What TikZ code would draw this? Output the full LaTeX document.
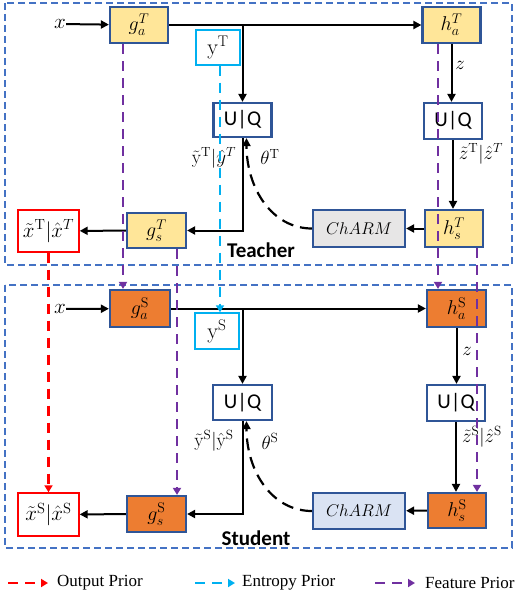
\RequirePackage{fix-cm}
\documentclass[tikz,border=0pt]{standalone}
\usepackage{fontspec}
\setsansfont{Carlito}
\newfontfamily\legendfont{Liberation Serif}
\usetikzlibrary{arrows.meta}
\definecolor{boxblue}{RGB}{47,85,151}
\definecolor{framblue}{RGB}{68,114,196}
\definecolor{teachfill}{RGB}{255,230,153}
\definecolor{studfill}{RGB}{237,125,49}
\definecolor{charmgray}{RGB}{231,230,230}
\definecolor{charmblue}{RGB}{218,227,243}
\definecolor{entcyan}{RGB}{0,176,240}
\definecolor{featpurple}{RGB}{112,48,160}
\definecolor{outred}{RGB}{255,0,0}
\begin{document}
\begin{tikzpicture}[x=1pt,y=-1pt,
    enc/.style={draw=boxblue,line width=2.2pt,inner sep=0pt,minimum width=58pt,minimum height=36pt,font=\fontsize{20}{22}\selectfont},
    tenc/.style={enc,fill=teachfill},
    senc/.style={enc,fill=studfill},
    quant/.style={enc,fill=white,font=\sffamily\fontsize{21}{24}\selectfont},
    charm/.style={enc,minimum width=92pt,font=\fontsize{17}{20}\selectfont},
    latent/.style={draw=entcyan,line width=1.4pt,fill=white,inner sep=0pt,minimum width=44pt,minimum height=35pt,font=\fontsize{22}{24}\selectfont},
    recon/.style={draw=outred,line width=1.4pt,fill=white,inner sep=0pt,minimum width=61pt,minimum height=42pt,font=\fontsize{21}{24}\selectfont},
    lbl/.style={inner sep=0pt,font=\fontsize{19}{22}\selectfont},
    flow/.style={line width=2pt,-{Triangle[length=8pt,width=8pt]}},
    ctx/.style={line width=2.2pt,dash pattern=on 12pt off 7pt,-{Triangle[length=8pt,width=8pt]}},
    prior/.style={line width=2.6pt,dash pattern=on 10pt off 7pt,-{Triangle[length=7pt,width=8pt]}},
    frame/.style={draw=framblue,line width=1.2pt,dash pattern=on 7pt off 4pt}]
    \useasboundingbox (0,0) rectangle (518,594);
    % frames
    \draw[frame] (5,3) rectangle (512,265);
    \draw[frame] (5,285) rectangle (512,548);
    % teacher
    \node[lbl,font=\fontsize{21}{24}\selectfont] (xT) at (60,24) {$x$};
    \node[tenc] (gaT) at (139,25) {$g_a^T$};
    \node[tenc] (haT) at (451.5,25) {$h_a^T$};
    \node[latent] (yT) at (218,47.5) {$\mathrm{y}^{\mathrm{T}}$};
    \node[quant,minimum height=34pt] (uqT) at (242.5,120) {U|Q};
    \node[quant] (uqzT) at (453,121) {U|Q};
    \node[tenc,minimum height=37pt] (hsT) at (454,228.5) {$h_s^T$};
    \node[charm,fill=charmgray,minimum height=37pt] (charmT) at (359,228.5) {$ChARM$};
    \node[tenc,minimum width=59pt,minimum height=35pt] (gsT) at (156.5,230.5) {$g_s^T$};
    \node[recon] (xhatT) at (48.5,231) {$\tilde{x}^{\mathrm{T}}|\hat{x}^{T}$};
    \node[lbl] (zT) at (460,65) {$z$};
    \node[lbl] (zhatT) at (481,154) {$\tilde{z}^{\mathrm{T}}|\hat{z}^{T}$};
    \node[lbl] (yhatT) at (214,158) {$\tilde{\mathrm{y}}^{\mathrm{T}}|\hat{y}^{T}$};
    \node[lbl] (thT) at (270,157) {$\theta^{\mathrm{T}}$};
    \node[font=\sffamily\bfseries\fontsize{21}{24}\selectfont,inner sep=0pt] (teach) at (261,250) {Teacher};
    \draw[flow] (xT) -- (gaT);
    \draw[flow] (gaT) -- (haT);
    \draw[flow] (gaT.east -| uqT.north) -- (uqT.north);
    \draw[flow] (haT.south) -- (haT.south |- uqzT.north);
    \draw[flow] (uqzT.south) -- (uqzT.south |- hsT.north);
    \draw[flow] (hsT) -- (charmT);
    \draw[flow] (uqT.south) |- (gsT.east);
    \draw[flow] (gsT) -- (xhatT);
    \draw[ctx] (charmT.west) .. controls +(-40,0) and +(0,50) .. ([xshift=4pt]uqT.south);
    % student
    \node[lbl,font=\fontsize{21}{24}\selectfont] (xS) at (60,309) {$x$};
    \node[senc,minimum width=60pt,minimum height=37pt] (gaS) at (140,308.5) {$g_a^{\mathrm{S}}$};
    \node[senc,minimum width=59pt,minimum height=37pt] (haS) at (456.5,308.5) {$h_a^{\mathrm{S}}$};
    \node[latent,minimum height=36pt] (yS) at (217,331) {$\mathrm{y}^{\mathrm{S}}$};
    \node[quant,minimum width=59pt,minimum height=35pt] (uqS) at (242.5,402.5) {U|Q};
    \node[quant] (uqzS) at (456,403) {U|Q};
    \node[senc,minimum height=35pt] (hsS) at (457,510.5) {$h_s^{\mathrm{S}}$};
    \node[charm,fill=charmblue] (charmS) at (359,511) {$ChARM$};
    \node[senc,minimum width=59pt] (gsS) at (156.5,514) {$g_s^{\mathrm{S}}$};
    \node[recon,minimum height=43pt] (xhatS) at (48.5,514.5) {$\tilde{x}^{\mathrm{S}}|\hat{x}^{\mathrm{S}}$};
    \node[lbl] (zS) at (467,351) {$z$};
    \node[lbl] (zhatS) at (482,437) {$\tilde{z}^{\mathrm{S}}|\hat{z}^{\mathrm{S}}$};
    \node[lbl] (yhatS) at (214,441) {$\tilde{\mathrm{y}}^{\mathrm{S}}|\hat{\mathrm{y}}^{\mathrm{S}}$};
    \node[lbl] (thS) at (270,441) {$\theta^{\mathrm{S}}$};
    \node[font=\sffamily\bfseries\fontsize{21}{24}\selectfont,inner sep=0pt] (stud) at (256,538) {Student};
    \draw[flow] (xS) -- (gaS);
    \draw[flow] (gaS) -- (haS);
    \draw[flow] (gaS.east -| uqS.north) -- (uqS.north);
    \draw[flow] (haS.south) -- (haS.south |- uqzS.north);
    \draw[flow] (uqzS.south) -- (uqzS.south |- hsS.north);
    \draw[flow] (hsS) -- (charmS);
    \draw[flow] (uqS.south) |- (gsS.east);
    \draw[flow] (gsS) -- (xhatS);
    \draw[ctx] (charmS.west) .. controls +(-40,0) and +(0,50) .. ([xshift=4pt]uqS.south);
    % priors
    \draw[prior,outred] (xhatT.south) -- (xhatT.south |- xhatS.north);
    \draw[prior,entcyan] ([xshift=2pt]yT.south) -- ([xshift=2pt]yT.south |- yS.north);
    \draw[prior,featpurple] ([xshift=-16pt]gaT.south) -- ([xshift=-16pt]gaT.south |- gaS.north);
    \draw[prior,featpurple] ([xshift=20.5pt]gsT.south) -- ([xshift=20.5pt]gsT.south |- gsS.north);
    \draw[prior,featpurple] ([xshift=-13.5pt]haT.south) -- ([xshift=-13.5pt]haT.south |- haS.north);
    \draw[prior,featpurple] ([xshift=23pt]hsT.south) -- ([xshift=23pt]hsT.south |- hsS.north);
    % legend
    \coordinate (lgRa) at (8,583);
    \coordinate (lgRb) at (48,583);
    \coordinate (lgCa) at (195,583);
    \coordinate (lgCb) at (235,583);
    \coordinate (lgPa) at (375,583);
    \coordinate (lgPb) at (415,583);
    \draw[prior,outred] (lgRa) -- (lgRb);
    \draw[prior,entcyan] (lgCa) -- (lgCb);
    \draw[prior,featpurple] (lgPa) -- (lgPb);
    \node[anchor=west,inner sep=0pt,font=\legendfont\fontsize{17}{20}\selectfont] (lgRt) at (57,583) {Output Prior};
    \node[anchor=west,inner sep=0pt,font=\legendfont\fontsize{17}{20}\selectfont] (lgCt) at (242,583) {Entropy Prior};
    \node[anchor=west,inner sep=0pt,font=\legendfont\fontsize{17}{20}\selectfont] (lgPt) at (425,583) {Feature Prior};
\end{tikzpicture}
\end{document}
